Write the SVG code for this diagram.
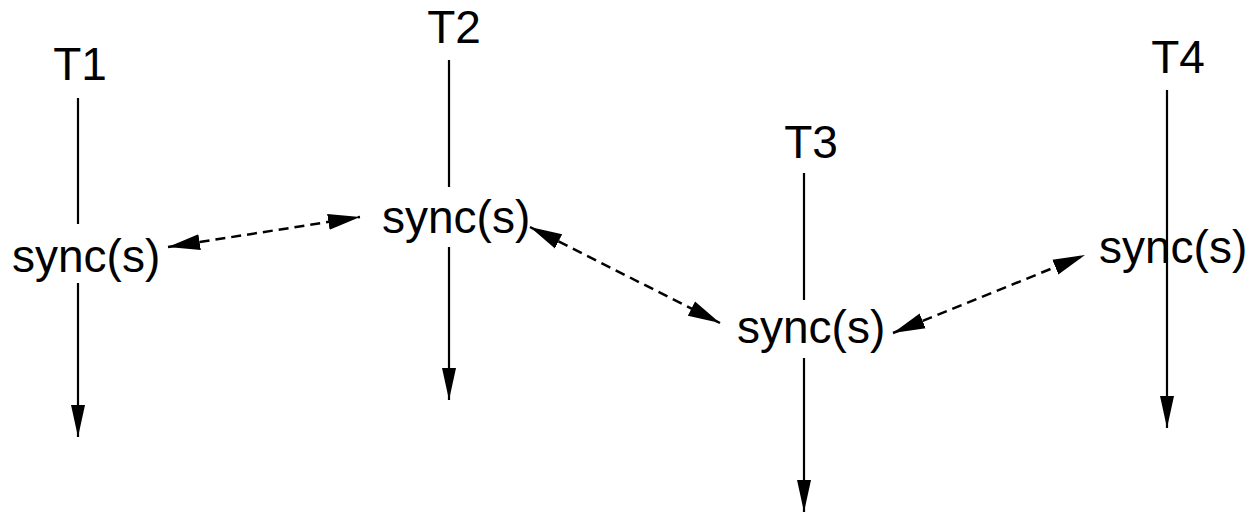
<svg xmlns="http://www.w3.org/2000/svg" width="1253" height="516" viewBox="0 0 1253 516">
<style>
text{font-family:"Liberation Sans",Arial,sans-serif;font-size:46px;fill:#000}
.life{stroke:#000;stroke-width:2.2;fill:none}
.sync{stroke:#000;stroke-width:2.5;fill:none;stroke-dasharray:10 6}
</style>
<defs>
<marker id="ah" markerUnits="userSpaceOnUse" markerWidth="34" markerHeight="16" refX="32" refY="7" orient="auto-start-reverse" viewBox="0 0 34 14">
<path d="M0,0 L32,7 L0,14 z" fill="#000"/>
</marker>
<marker id="ahd" markerUnits="userSpaceOnUse" markerWidth="34" markerHeight="18" refX="32" refY="8" orient="auto-start-reverse" viewBox="0 0 34 16">
<path d="M0,0 L32,8 L0,16 z" fill="#000"/>
</marker>
</defs>
<rect width="1253" height="516" fill="#fff"/>
<g id="T1">
<text x="80" y="80" text-anchor="middle">T1</text>
<line class="life" x1="78" y1="98" x2="78" y2="224"/>
<text x="12" y="272">sync(s)</text>
<line class="life" x1="78" y1="283" x2="78" y2="437" marker-end="url(#ah)"/>
</g>
<g id="T2">
<text x="454" y="43" text-anchor="middle">T2</text>
<line class="life" x1="449" y1="60" x2="449" y2="187"/>
<text x="382" y="233">sync(s)</text>
<line class="life" x1="449" y1="247" x2="449" y2="400" marker-end="url(#ah)"/>
</g>
<g id="T3">
<text x="811" y="158" text-anchor="middle">T3</text>
<line class="life" x1="804" y1="173" x2="804" y2="300"/>
<text x="737" y="343">sync(s)</text>
<line class="life" x1="804" y1="358" x2="804" y2="512" marker-end="url(#ah)"/>
</g>
<g id="T4">
<text x="1178" y="73" text-anchor="middle">T4</text>
<line class="life" x1="1167" y1="90" x2="1167" y2="428" marker-end="url(#ah)"/>
<text x="1099" y="263">sync(s)</text>
</g>
<g id="connectors">
<line class="sync" x1="168" y1="247" x2="360" y2="217" marker-start="url(#ahd)" marker-end="url(#ahd)"/>
<line class="sync" x1="530" y1="227" x2="720" y2="323" marker-start="url(#ahd)" marker-end="url(#ahd)"/>
<line class="sync" x1="893" y1="333" x2="1085" y2="255" marker-start="url(#ahd)" marker-end="url(#ahd)"/>
</g>
</svg>
